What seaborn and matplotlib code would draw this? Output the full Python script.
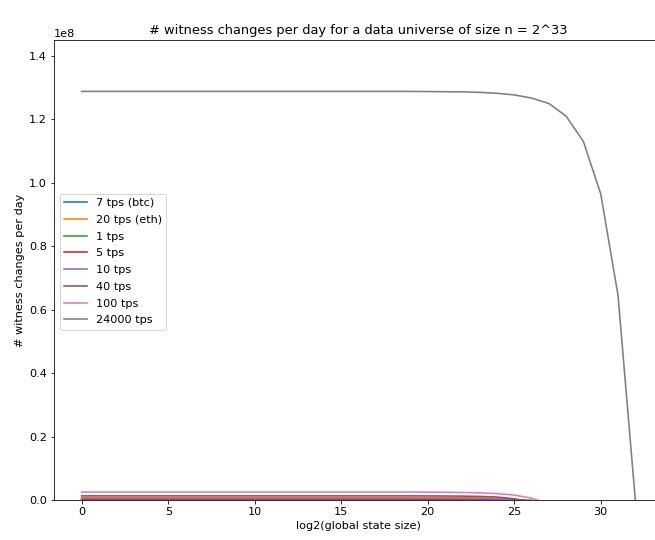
import matplotlib
matplotlib.use("Agg")
import matplotlib.pyplot as plt
import seaborn as sns
import pandas as pd

x_vals = list(range(0, 33))

labels = ["7 tps (btc)", "20 tps (eth)", "1 tps", "5 tps", "10 tps", "40 tps", "100 tps", "24000 tps"]

# values in units of 1e6 witness changes per day
tps_7 = [0.35] * 20 + [0.34, 0.33, 0.32, 0.29, 0.22, 0.02, -0.4]
tps_20 = [0.75] * 20 + [0.74, 0.72, 0.70, 0.65, 0.54, 0.20, -0.4]
tps_1 = [0.05] * 20 + [0.05, 0.05, 0.045, 0.04, 0.03, 0.003, -0.05]
tps_5 = [0.25] * 20 + [0.245, 0.24, 0.23, 0.21, 0.16, 0.01, -0.3]
tps_10 = [0.5] * 20 + [0.49, 0.48, 0.46, 0.42, 0.32, 0.03, -0.5]
tps_40 = [1.3] * 20 + [1.28, 1.26, 1.22, 1.13, 0.95, 0.38, -0.5]
tps_100 = [2.5] * 20 + [2.47, 2.44, 2.38, 2.26, 2.03, 1.55, 0.6, -1.3]
tps_24000 = [128.8] * 20 + [128.75, 128.7, 128.65, 128.5, 128.2, 127.7, 126.7,
                            125.0, 121.0, 113.0, 96.5, 64.5, 0.0]

series = [tps_7, tps_20, tps_1, tps_5, tps_10, tps_40, tps_100, tps_24000]

rows = []
for lab, vals in zip(labels, series):
    for xv, v in zip(x_vals, vals):
        rows.append({"x": xv, "y": v * 1e6, "series": lab})
df = pd.DataFrame(rows)

W, H = 655, 540
fig = plt.figure(figsize=(W / 72, H / 72), dpi=72)
plt.rcParams["font.size"] = 11.25
left_px, right_px, top_px, bottom_px = 54, 663, 40, 500
ax = fig.add_axes([left_px / W, 1 - bottom_px / H,
                   (right_px - left_px) / W, (bottom_px - top_px) / H])

palette = sns.color_palette("tab10", 8)
sns.lineplot(data=df, x="x", y="y", hue="series", hue_order=labels,
             palette=palette, ax=ax, linewidth=1.6, sort=False)

ax.set_xlim(-1.6, 33.6)
ax.set_ylim(0, 1.45e8)
ax.set_xticks([0, 5, 10, 15, 20, 25, 30])
ax.set_yticks([0, 0.2e8, 0.4e8, 0.6e8, 0.8e8, 1.0e8, 1.2e8, 1.4e8])
ax.set_xlabel("log2(global state size)", fontsize=11.25)
ax.set_ylabel("# witness changes per day", fontsize=11.25)
ax.set_title("# witness changes per day for a data universe of size n = 2^33", fontsize=13)
ax.tick_params(labelsize=11.25)
ax.yaxis.get_offset_text().set_fontsize(11.25)

handles, lbls = ax.get_legend_handles_labels()
ax.legend(handles, lbls, loc="center left", fontsize=11.25, labelspacing=0.6,
          bbox_to_anchor=(0, 0.518))

fig.savefig("out.png", dpi=72)
